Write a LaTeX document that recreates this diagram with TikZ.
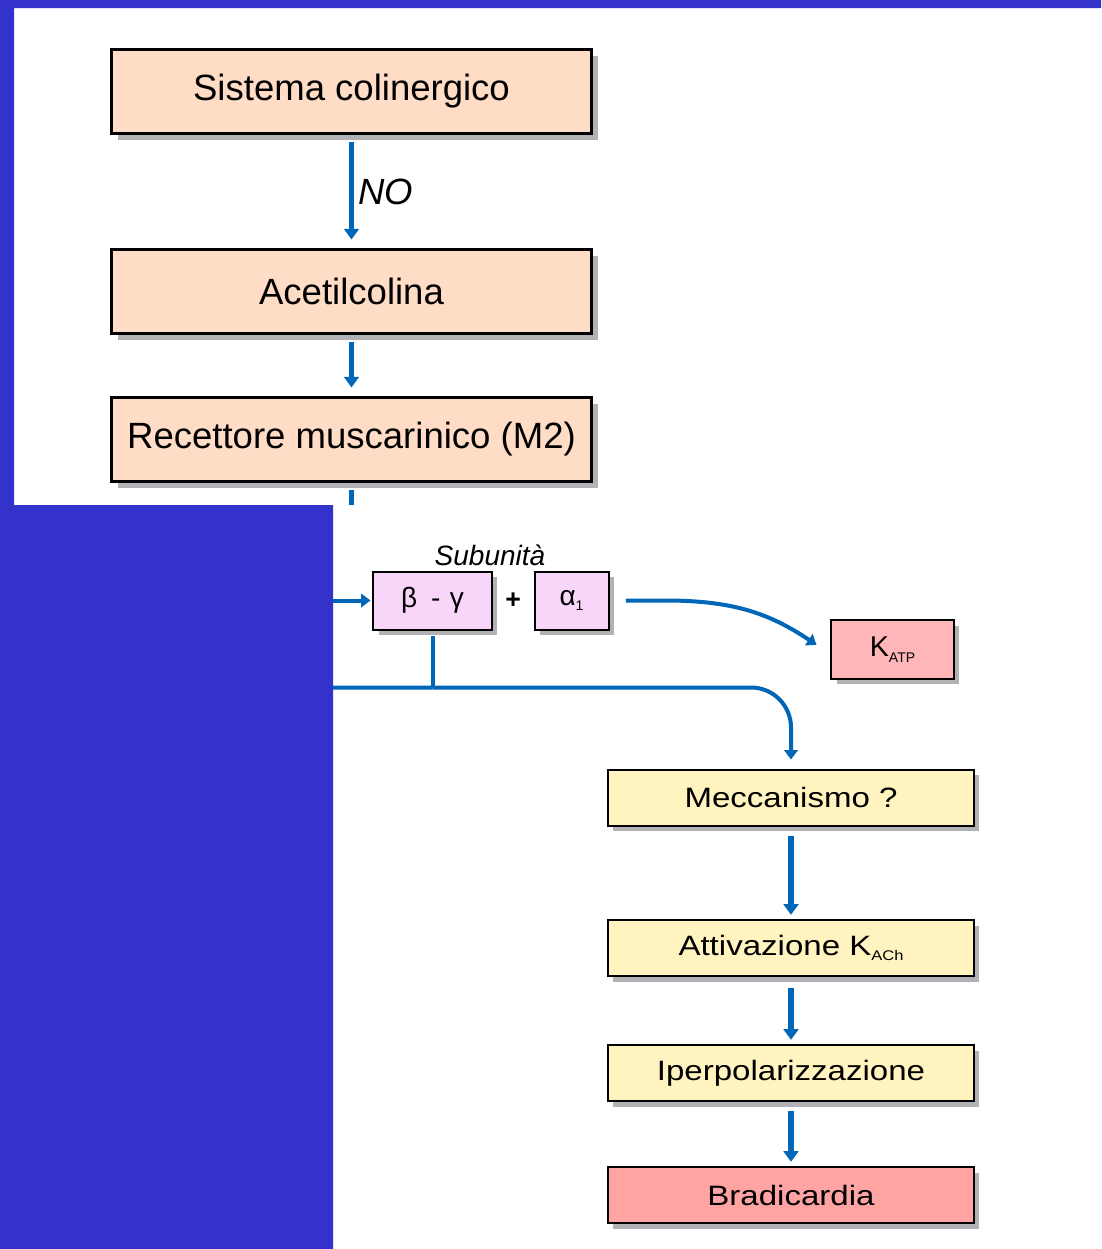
\documentclass[tikz,border=0pt]{standalone}
\usepackage{fontspec}
\setmainfont{Liberation Sans}
\newfontfamily\widefont[FakeStretch=1.18]{Liberation Sans}
\usepackage{xcolor}
\definecolor{peach}{HTML}{FFDCC6}
\definecolor{lilac}{HTML}{F8D6F9}
\definecolor{rosy}{HTML}{FFB6B9}
\definecolor{cream}{HTML}{FFF3C0}
\definecolor{salmon}{HTML}{FFA3A3}
\definecolor{shade}{HTML}{B2B2B6}
\definecolor{flowblue}{HTML}{0066B8}
\definecolor{coverblue}{HTML}{3333CC}
\usepackage{tikz}
\usetikzlibrary{positioning, calc}
\usetikzlibrary{arrows.meta, shadows}
\newcommand{\pedice}[1]{\raisebox{-0.35ex}{\fontsize{10.5}{12}\selectfont #1}}

\begin{document}
\begin{tikzpicture}[x=0.75pt, y=-0.75pt,
    outer sep=0pt,
    topbox/.style={draw=black, line width=2.25pt, fill=peach, minimum width=360pt,
      minimum height=63pt, inner sep=0pt, font=\fontsize{27.4}{32}\selectfont,
      drop shadow={shadow xshift=5pt, shadow yshift=-5pt, fill=shade, opacity=1}},
    lowbox/.style={draw=black, line width=1.5pt, fill=cream, minimum width=274.5pt,
      minimum height=42pt, inner sep=0pt, font=\widefont\fontsize{21}{25}\selectfont,
      drop shadow={shadow xshift=4pt, shadow yshift=-4pt, fill=shade, opacity=1}},
    subbox/.style={draw=black, line width=1.5pt, fill=lilac, minimum height=43.5pt,
      inner sep=0pt, font=\fontsize{21}{25}\selectfont,
      drop shadow={shadow xshift=4pt, shadow yshift=-4pt, fill=shade, opacity=1}},
    flow/.style={draw=flowblue, line width=4pt, -{Triangle[width=11pt,length=8pt]}},
    branch/.style={draw=flowblue, line width=3pt, -{Triangle[width=10pt,length=7pt]}},
    tap/.style={draw=flowblue, line width=3pt}
  ]
    \fill[white] (0,0) rectangle (1101,1249);

    % catena superiore
    \node[topbox] (sis) at (351.5,91.5) {Sistema colinergico};
    \node[topbox, below=87pt of sis] (ace) {Acetilcolina};
    \node[topbox, below=48pt of ace] (rec) {Recettore muscarinico (M2)};

    % subunita
    \node[subbox, minimum width=89pt] (bg) at (432.5,600.5) {β\,\,\,-\,\,γ};
    \node[subbox, minimum width=55.5pt, right=32pt of bg] (al) {α\pedice{1}};
    \node[font=\bfseries\fontsize{20}{24}\selectfont] (plus) at ($(bg.east)!0.5!(al.west)$) {+};
    \node[font=\itshape\fontsize{21}{25}\selectfont] (sub) at (490,555) {Subunità};
    \node[subbox, fill=rosy, minimum width=92pt, minimum height=44pt,
      font=\fontsize{21.5}{25}\selectfont] (katp) at (892.5,649.5) {K\pedice{ATP}};

    % catena inferiore
    \node[lowbox] (mec) at (791,797.5) {Meccanismo ?};
    \node[lowbox, below=71pt of mec] (att) {Attivazione K\pedice{ACh}};
    \node[lowbox, below=51.75pt of att] (ipe) {Iperpolarizzazione};
    \node[lowbox, fill=salmon, below=49.5pt of ipe] (bra) {Bradicardia};

    \coordinate (stub) at (351.5,505);
    \coordinate (feed) at (250,600.5);
    \coordinate[below=43.5pt of bg] (jn);
    \coordinate (hid) at (200,688);

    \draw[flow, shorten <=6pt, shorten >=7.5pt] (sis) -- node[right=2pt,
      font=\itshape\fontsize{27.4}{32}\selectfont]{NO} (ace);
    \draw[flow, shorten <=6pt, shorten >=7.5pt] (ace) -- (rec);
    \draw[tap, line width=4pt, shorten <=6pt] (rec) -- (stub);
    \draw[branch, shorten >=2pt] (feed) -- (bg);

    \draw[tap, shorten <=5pt] (bg) -- (jn);
    \draw[tap] (hid) -- (jn);
    \draw[branch, rounded corners=30pt, shorten >=7.5pt] (jn) -| (mec);
    \draw[branch] ([xshift=13pt]al.east) -- ++(40,0)
      .. controls +(70,0) and +(-45,-30) .. ([xshift=-11pt,yshift=3.5pt]katp.west);

    \draw[flow, shorten <=7.5pt, shorten >=4pt] (mec) -- (att);
    \draw[flow, shorten <=8.5pt, shorten >=4pt] (att) -- (ipe);
    \draw[flow, shorten <=7.5pt, shorten >=4pt] (ipe) -- (bra);

    % copertura blu
    \fill[coverblue] (0,0) -- (1101,0) -- (1101,8) -- (14,8) -- (14,505)
      -- (333,505) -- (333,1249) -- (0,1249) -- cycle;
    \useasboundingbox (0,0) rectangle (1101,1249);
\end{tikzpicture}
\end{document}
